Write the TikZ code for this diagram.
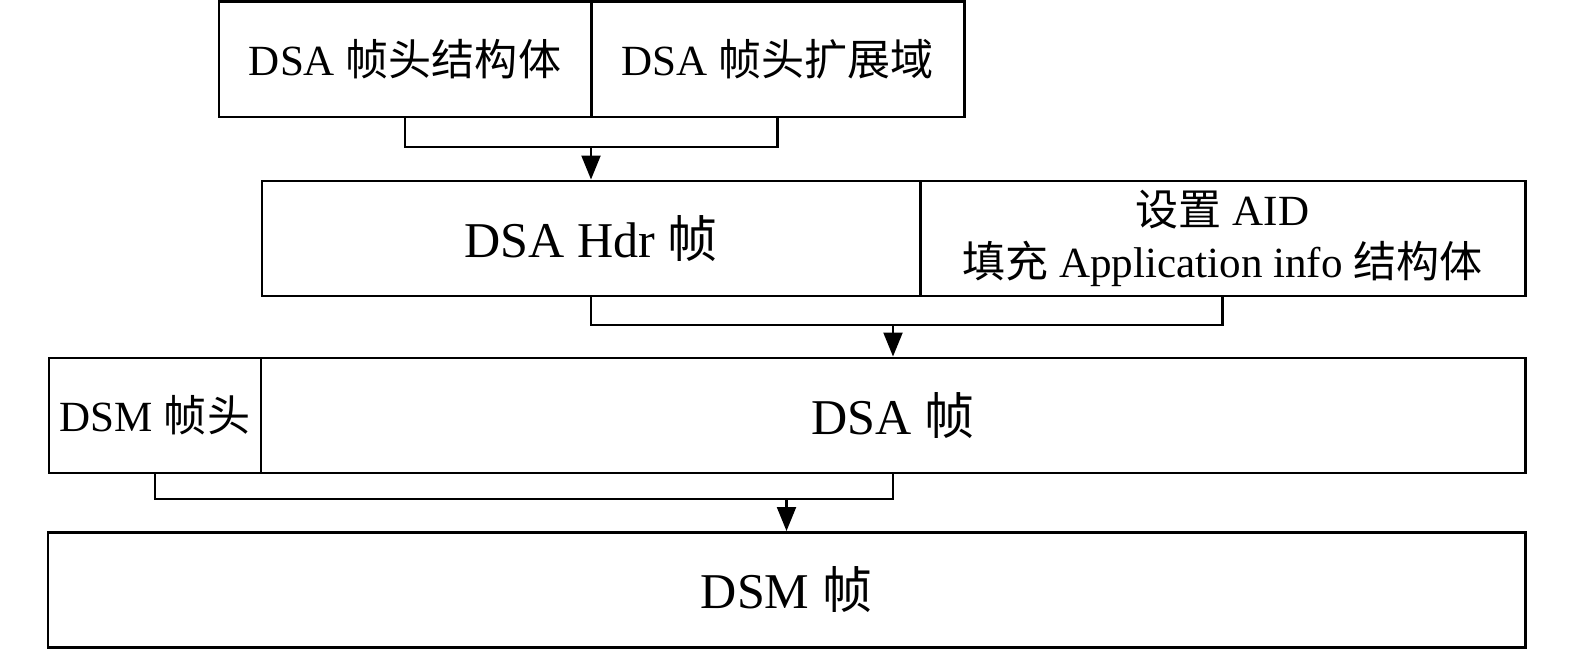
\documentclass[tikz,border=0pt]{standalone}
\usepackage{fontspec}
\setmainfont{Liberation Serif}
\newfontfamily\cjk{Noto Sans CJK SC}
\usetikzlibrary{arrows.meta}
\newcommand{\zh}[1]{{\cjk #1}}
\newcommand{\smallsize}{\fontsize{24.5pt}{29.6pt}\selectfont}
\newcommand{\bigsize}{\fontsize{28.5pt}{34pt}\selectfont}

\begin{document}
\begin{tikzpicture}[
  cell/.style={draw, line width=1.7pt, inner sep=0pt, minimum height=2.3cm},
  link/.style={line width=1.25pt},
  feed/.style={line width=1.25pt, -{Triangle[length=0.48cm,width=0.38cm]}}]

\useasboundingbox (0,0) rectangle (31.5,-13);

% row 1
\node (hs) at (8.10,-1.19) [cell, minimum width=7.44cm, font=\smallsize] {DSA \zh{帧头结构体}};
\node (he) at (15.55,-1.19) [cell, minimum width=7.46cm, font=\smallsize] {DSA \zh{帧头扩展域}};

% row 2
\node (hdr) at (11.82,-4.77) [cell, minimum width=13.16cm, font=\bigsize] {DSA Hdr \zh{帧}};
\node (aid) at (24.45,-4.77) [cell, minimum width=12.10cm, font=\smallsize, align=center]
  {\zh{设置} AID\\\zh{填充} Application info \zh{结构体}};

% row 3
\node (dsmh) at (3.10,-8.31) [cell, minimum width=4.24cm, font=\smallsize] {DSM \zh{帧头}};
\node (dsa) at (17.86,-8.31) [cell, minimum width=25.28cm, font=\bigsize] {DSA \zh{帧}};

% row 4
\node (dsm) at (15.73,-11.80) [cell, minimum width=29.54cm, font=\bigsize] {DSM \zh{帧}};

\coordinate (j1) at (hdr.north |- 0,-2.94);
\coordinate (j2) at (dsa.north |- 0,-6.50);
\coordinate (j3) at (dsm.north |- 0,-9.98);

\draw[link]
(hs.south) |- (j1) -| (he.south)
(hdr.south) |- (j2) -| (aid.south)
(dsmh.south) |- (j3) -| (dsa.south);

\draw[feed] (j1) to (hdr.north);
\draw[feed] (j2) to (dsa.north);
\draw[feed] (j3) to (dsm.north);

\end{tikzpicture}
\end{document}
